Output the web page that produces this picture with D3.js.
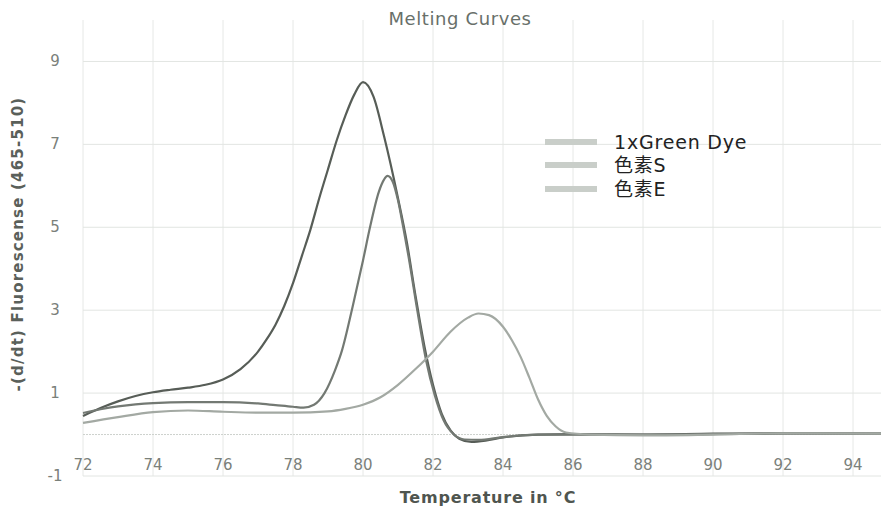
<!DOCTYPE html>
<html>
<head>
<meta charset="utf-8">
<script src="https://d3js.org/d3.v7.min.js"></script>
<style>
  body { margin: 0; background: #fff; }
  text { font-family: "DejaVu Sans", sans-serif; }
</style>
</head>
<body>
<script>
// melting curve data
var seriesNames = ["1xGreen Dye", "色素S", "色素E"];

var greenT = [72, 72.5, 73, 73.5, 74, 74.5, 75, 75.5, 76, 76.5, 77, 77.25, 77.5, 77.75, 78, 78.25, 78.5, 78.75, 79, 79.25, 79.5, 79.75, 80, 80.3, 80.6, 81, 81.25, 81.5, 81.75, 82, 82.25, 82.5, 82.75, 83.1, 83.5, 84, 85, 86, 88, 90, 92, 94.8];
var greenV = [0.45, 0.64, 0.8, 0.93, 1.02, 1.08, 1.13, 1.2, 1.33, 1.58, 2.0, 2.3, 2.65, 3.1, 3.65, 4.3, 4.95, 5.7, 6.4, 7.1, 7.7, 8.2, 8.5, 8.15, 7.2, 5.7, 4.65, 3.35, 2.15, 1.2, 0.5, 0.1, -0.1, -0.18, -0.15, -0.07, 0.0, 0.01, 0.0, 0.02, 0.03, 0.02];

var sT = [72, 72.5, 73, 73.5, 74, 75, 76, 77, 77.5, 78, 78.3, 78.6, 78.9, 79.2, 79.4, 79.7, 80, 80.2, 80.45, 80.6, 80.7, 80.85, 81, 81.15, 81.3, 81.55, 81.8, 82.05, 82.3, 82.6, 82.9, 83.3, 84, 85, 86, 88, 90, 92, 94.8];
var sV = [0.52, 0.61, 0.68, 0.73, 0.76, 0.78, 0.78, 0.75, 0.71, 0.67, 0.65, 0.72, 1.0, 1.55, 2.03, 3.07, 4.2, 5.0, 5.85, 6.15, 6.24, 6.1, 5.65, 5.0, 4.3, 3.0, 1.8, 0.95, 0.35, 0.0, -0.12, -0.13, -0.06, 0.0, 0.0, 0.0, 0.01, 0.02, 0.02];

var eT = [72, 73, 74, 75, 76, 77, 78, 79, 79.5, 80, 80.5, 81, 81.5, 82, 82.5, 83, 83.3, 83.6, 84, 84.25, 84.5, 84.75, 85, 85.25, 85.5, 85.8, 86.5, 88, 90, 92, 94.8];
var eV = [0.28, 0.42, 0.54, 0.58, 0.55, 0.53, 0.53, 0.56, 0.62, 0.72, 0.9, 1.2, 1.58, 2.0, 2.48, 2.82, 2.92, 2.88, 2.6, 2.28, 1.88, 1.38, 0.85, 0.45, 0.2, 0.05, 0.0, -0.02, 0.0, 0.03, 0.02];

var xTicks = [72, 74, 76, 78, 80, 82, 84, 86, 88, 90, 92, 94];
var yTicks = [9, 7, 5, 3, 1, -1];

var colors = ["#575d57", "#737973", "#a3a9a3"];

var W = 882, H = 512;
var svg = d3.select("body").append("svg")
    .attr("width", W)
    .attr("height", H);

var x = d3.scaleLinear().domain([72, 94.8]).range([83, 881]);
var y = d3.scaleLinear().domain([-1, 10]).range([476, 20]);

//grid
svg.append("g").selectAll("line")
    .data(xTicks)
    .enter().append("line")
    .attr("x1", x).attr("x2", x)
    .attr("y1", y(10)).attr("y2", y(-1))
    .attr("stroke", "#e6e8e6")
    .attr("stroke-width", 1);

svg.append("g").selectAll("line")
    .data(yTicks)
    .enter().append("line")
    .attr("x1", x(72)).attr("x2", x(94.8))
    .attr("y1", y).attr("y2", y)
    .attr("stroke", "#e2e5e2")
    .attr("stroke-width", 1);

//zero line
svg.append("line")
    .attr("x1", x(72)).attr("x2", x(94.8))
    .attr("y1", y(0)).attr("y2", y(0))
    .attr("stroke", "#cdd1cd")
    .attr("stroke-dasharray", "2,1");

//tick labels
svg.append("g").selectAll("text")
    .data(yTicks)
    .enter().append("text")
    .attr("x", 55)
    .attr("y", function (d) { return y(d) + 5; })
    .attr("text-anchor", "middle")
    .style("font-size", "15px")
    .style("fill", "#7a807a")
    .text(String);

svg.append("g").selectAll("text")
    .data(xTicks)
    .enter().append("text")
    .attr("x", x)
    .attr("y", 470)
    .attr("text-anchor", "middle")
    .style("font-size", "15px")
    .style("fill", "#7a807a")
    .text(String);

//curves
var line = d3.line()
    .x(function (d) { return x(d[0]); })
    .y(function (d) { return y(d[1]); })
    .curve(d3.curveMonotoneX);

var series = [d3.zip(greenT, greenV), d3.zip(sT, sV), d3.zip(eT, eV)];

svg.append("g").selectAll("path")
    .data(series)
    .enter().append("path")
    .attr("d", line)
    .attr("fill", "none")
    .attr("stroke", function (d, i) { return colors[i]; })
    .attr("stroke-width", 2.2);

//title and axis labels
svg.append("text")
    .attr("x", 460).attr("y", 25)
    .attr("text-anchor", "middle")
    .style("font-size", "18px")
    .style("letter-spacing", "0.6px")
    .style("fill", "#68706a")
    .text("Melting Curves");

svg.append("text")
    .attr("transform", "translate(23,244) rotate(-90)")
    .attr("text-anchor", "middle")
    .style("font-size", "15px")
    .style("font-weight", "bold")
    .style("letter-spacing", "1.2px")
    .style("fill", "#5a605a")
    .text("-(d/dt) Fluorescense (465-510)");

svg.append("text")
    .attr("x", 488).attr("y", 503)
    .attr("text-anchor", "middle")
    .style("font-size", "16px")
    .style("font-weight", "bold")
    .style("letter-spacing", "0.8px")
    .style("fill", "#4f554f")
    .text("Temperature in °C");

//legend
var legendY = [142, 165, 189];
var legend = svg.append("g").selectAll("g")
    .data(seriesNames)
    .enter().append("g");

legend.append("rect")
    .attr("x", 545)
    .attr("y", function (d, i) { return legendY[i] - 3; })
    .attr("width", 52)
    .attr("height", 6)
    .attr("fill", "#c9cec9");

legend.append("text")
    .attr("x", 614)
    .attr("y", function (d, i) { return legendY[i] + 7; })
    .style("font-family", "'DejaVu Sans', 'Noto Sans CJK SC', sans-serif")
    .style("font-size", "19px")
    .style("letter-spacing", "0.8px")
    .style("fill", "#222")
    .text(String);
</script>
</body>
</html>
